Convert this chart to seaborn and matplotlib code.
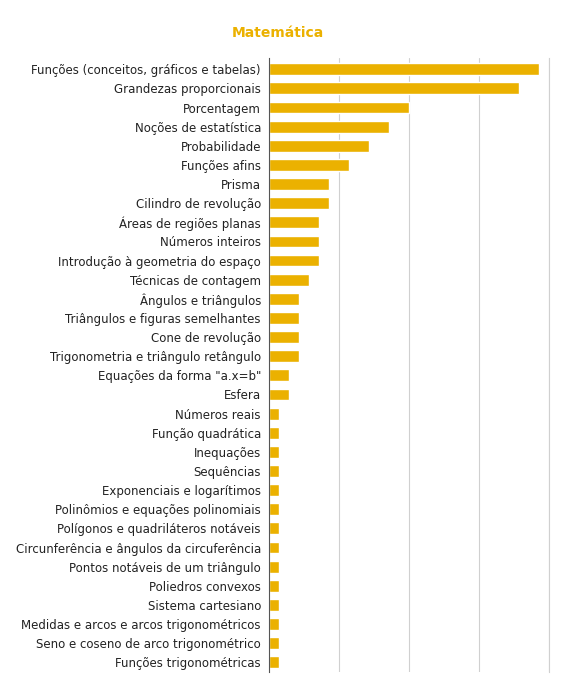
import matplotlib
matplotlib.use('Agg')
import matplotlib.pyplot as plt
import seaborn as sns
import pandas as pd

topics = [
    "Funções (conceitos, gráficos e tabelas)", "Grandezas proporcionais", "Porcentagem",
    "Noções de estatística", "Probabilidade", "Funções afins", "Prisma",
    "Cilindro de revolução", "Áreas de regiões planas", "Números inteiros",
    "Introdução à geometria do espaço", "Técnicas de contagem", "Ângulos e triângulos",
    "Triângulos e figuras semelhantes", "Cone de revolução",
    "Trigonometria e triângulo retângulo", "Equações da forma \"a.x=b\"", "Esfera",
    "Números reais", "Função quadrática", "Inequações", "Sequências",
    "Exponenciais e logarítimos", "Polinômios e equações polinomiais",
    "Polígonos e quadriláteros notáveis", "Circunferência e ângulos da circuferência",
    "Pontos notáveis de um triângulo", "Poliedros convexos", "Sistema cartesiano",
    "Medidas e arcos e arcos trigonométricos", "Seno e coseno de arco trigonométrico",
    "Funções trigonométricas",
]
counts = [27, 25, 14, 12, 10, 8, 6, 6, 5, 5, 5, 4, 3, 3, 3, 3, 2, 2,
          1, 1, 1, 1, 1, 1, 1, 1, 1, 1, 1, 1, 1, 1]

df = pd.DataFrame({'topic': topics, 'count': counts})

sns.set_style('white')
fig = plt.figure(figsize=(5.61, 6.80), dpi=100)
ax = fig.add_axes([0.48, 0.012, 0.499, 0.903])
sns.barplot(data=df, x='count', y='topic', color='#EBB100', width=0.62, ax=ax, saturation=1)

ax.set_xlim(0, 28)
ax.set_xticks([7, 14, 21, 28])
ax.set_xticklabels([])
ax.tick_params(axis='x', length=0)
ax.tick_params(axis='y', length=0, labelsize=8.5, pad=6, labelcolor='#222222')
ax.grid(axis='x', color='#d0d0d0', linewidth=0.8)
ax.set_axisbelow(True)
for s in ['top', 'bottom']:
    ax.spines[s].set_visible(False)
ax.spines['right'].set_color('#d0d0d0')
ax.spines['left'].set_color('#555555')
ax.set_xlabel('')
ax.set_ylabel('')
ax.set_ylim(len(topics) - 0.5, -0.6)

fig.text(0.495, 0.952, 'Matemática', ha='center', va='center', fontsize=10,
         fontweight='bold', color='#EBB100')

fig.savefig('out.png', dpi=100)
